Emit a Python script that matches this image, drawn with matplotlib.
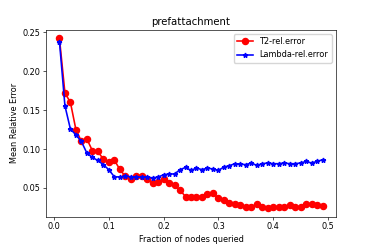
import numpy as np
import matplotlib
matplotlib.use('Agg')
import matplotlib.pyplot as plt

# fraction of nodes queried
frac = [round(0.01 * i, 2) for i in range(1, 50)]

t2_err = [0.242, 0.172, 0.160, 0.125, 0.110, 0.113, 0.098, 0.097, 0.087, 0.083,
          0.086, 0.074, 0.065, 0.062, 0.066, 0.065, 0.062, 0.057, 0.058, 0.061,
          0.056, 0.054, 0.047, 0.039, 0.039, 0.039, 0.039, 0.042, 0.043, 0.037,
          0.035, 0.031, 0.029, 0.028, 0.025, 0.026, 0.029, 0.025, 0.024, 0.025,
          0.026, 0.026, 0.028, 0.026, 0.026, 0.029, 0.029, 0.028, 0.027]

lambda_err = [0.238, 0.1555, 0.1256, 0.1183, 0.1097, 0.0949, 0.0892, 0.0854, 0.0799, 0.0735,
              0.0645, 0.0641, 0.065, 0.0645, 0.064, 0.064, 0.064, 0.063, 0.064, 0.067,
              0.068, 0.068, 0.0735, 0.0764, 0.0726, 0.0756, 0.0735, 0.0756, 0.0744, 0.0726,
              0.0769, 0.0786, 0.0812, 0.0808, 0.0799, 0.0821, 0.079, 0.0812, 0.0821, 0.0812,
              0.0812, 0.0821, 0.0812, 0.0812, 0.0821, 0.0841, 0.0821, 0.0841, 0.0863]

s = 0.583  # scale from original render size
plt.rcParams['font.size'] = 10 * s
plt.rcParams['axes.linewidth'] = 0.8 * s
plt.rcParams['xtick.major.width'] = 0.8 * s
plt.rcParams['ytick.major.width'] = 0.8 * s
plt.rcParams['xtick.major.size'] = 3.5 * s
plt.rcParams['ytick.major.size'] = 3.5 * s
plt.rcParams['xtick.major.pad'] = 3.5 * s
plt.rcParams['ytick.major.pad'] = 3.5 * s

fig = plt.figure(figsize=(3.74, 2.49), dpi=100)
ax = fig.add_axes([0.1238, 0.1297, 0.7738, 0.7498])

ax.plot(frac, t2_err, 'r-o', label='T2-rel.error', linewidth=2 * s, markersize=7.5 * s)
ax.plot(frac, lambda_err, 'b-*', label='Lambda-rel.error', linewidth=2 * s, markersize=6 * s)

ax.set_title('prefattachment', fontsize=7.3, pad=6 * s)
ax.set_xlabel('Fraction of nodes queried', labelpad=4 * s)
ax.set_ylabel('Mean Relative Error', labelpad=4 * s)
ax.legend(loc='upper right')

fig.savefig('out.png', dpi=100)
